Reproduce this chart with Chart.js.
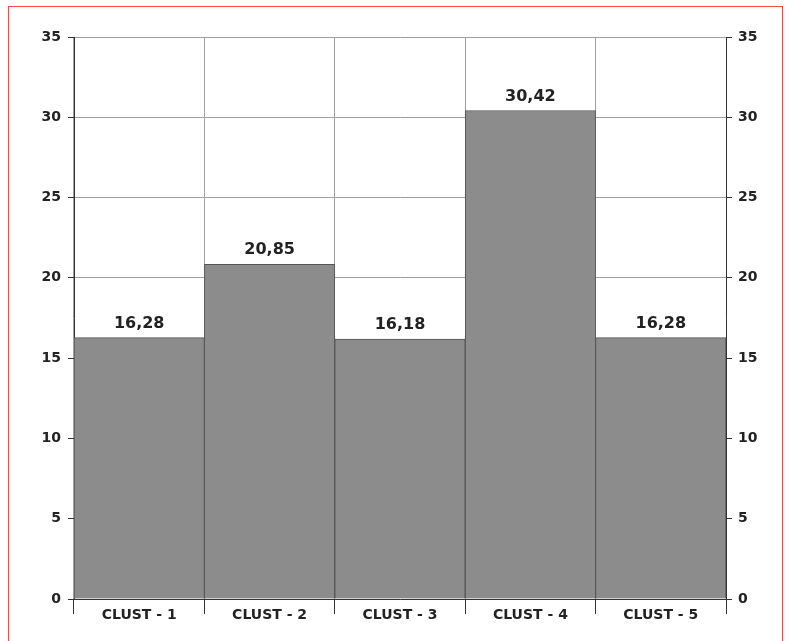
<!DOCTYPE html>
<html>
<head>
<meta charset="utf-8">
<script src="https://cdn.jsdelivr.net/npm/chart.js@4/dist/chart.umd.min.js"></script>
<style>
  html, body { margin: 0; padding: 0; background: #ffffff; }
  #c { display: block; }
</style>
</head>
<body>
<canvas id="c" width="792" height="641"></canvas>
<script>
const categories = ['CLUST - 1', 'CLUST - 2', 'CLUST - 3', 'CLUST - 4', 'CLUST - 5'];
const values = [16.28, 20.85, 16.18, 30.42, 16.28];
const yMin = 0;
const yMax = 35;
const yStep = 5;

const FONT = "'DejaVu Sans', Verdana, sans-serif";

const frame = {
  id: 'frame',
  beforeDraw(chart) {
    const ctx = chart.ctx;
    ctx.save();
    ctx.fillStyle = '#ffffff';
    ctx.fillRect(0, 0, chart.width, chart.height);
    ctx.strokeStyle = '#f04e40';
    ctx.lineWidth = 1;
    ctx.strokeRect(8.5, 6.5, 774, 640);
    ctx.restore();
  }
};

const valueLabels = {
  id: 'valueLabels',
  afterDatasetsDraw(chart) {
    const ctx = chart.ctx;
    const meta = chart.getDatasetMeta(0);
    ctx.save();
    ctx.font = 'bold 16px ' + FONT;
    ctx.fillStyle = '#222222';
    ctx.textAlign = 'center';
    ctx.textBaseline = 'alphabetic';
    meta.data.forEach((bar, i) => {
      const txt = values[i].toFixed(2).replace('.', ',');
      ctx.fillText(txt, bar.x, bar.y - 10);
    });
    ctx.restore();
  }
};

new Chart(document.getElementById('c'), {
  type: 'bar',
  data: {
    labels: categories,
    datasets: [{
      data: values,
      backgroundColor: '#8c8c8c',
      borderColor: '#555555',
      borderWidth: 1,
      categoryPercentage: 1.0,
      barPercentage: 1.0
    }]
  },
  options: {
    responsive: false,
    animation: false,
    layout: { padding: { left: 0, right: 0, top: 37, bottom: 0 } },
    plugins: { legend: { display: false }, tooltip: { enabled: false } },
    scales: {
      x: {
        offset: true,
        grid: { offset: true, color: '#a0a0a0', tickColor: '#333333', tickLength: 15, lineWidth: 1 },
        border: { display: true, color: '#333333', width: 1 },
        ticks: { color: '#222222', font: { family: FONT, size: 14, weight: 'bold' }, padding: -7, maxRotation: 0 },
        afterFit(s) { s.height = 42; }
      },
      y: {
        position: 'left',
        min: yMin, max: yMax,
        grid: { color: '#a0a0a0', tickColor: '#333333', tickLength: 6 },
        border: { display: true, color: '#333333', width: 1 },
        ticks: { stepSize: yStep, color: '#222222', font: { family: FONT, size: 14, weight: 'bold' }, padding: 7 },
        afterFit(s) { s.width = 74; }
      },
      y2: {
        position: 'right',
        min: yMin, max: yMax,
        grid: { drawOnChartArea: false, tickColor: '#333333', tickLength: 6 },
        border: { display: true, color: '#333333', width: 1 },
        ticks: { stepSize: yStep, color: '#222222', font: { family: FONT, size: 14, weight: 'bold' }, padding: 6 },
        afterFit(s) { s.width = 66; }
      }
    }
  },
  plugins: [frame, valueLabels]
});
</script>
</body>
</html>
